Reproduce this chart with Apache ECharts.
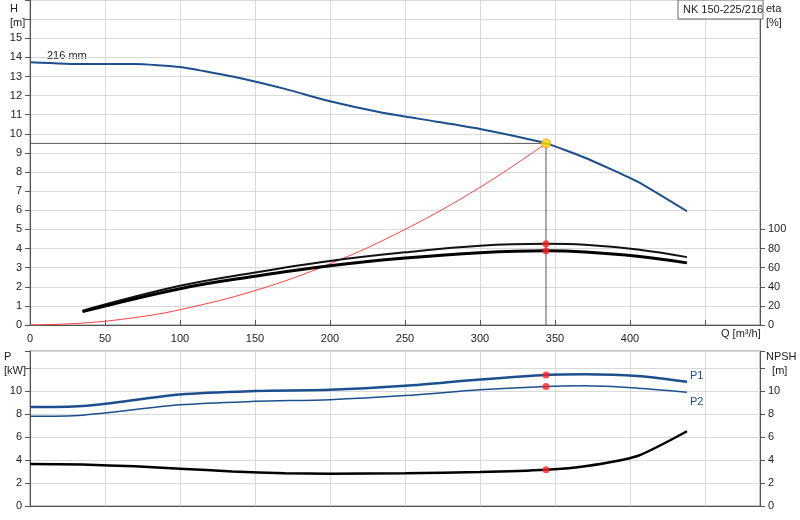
<!DOCTYPE html>
<html><head><meta charset="utf-8">
<script src="https://cdn.jsdelivr.net/npm/echarts@6/dist/echarts.min.js"></script>
<style>html,body{margin:0;padding:0;background:#fff}#c{width:800px;height:520px}</style>
</head><body><div id="c"></div>
<script>
const hQ   = [0,35,70,100,135,170,200,235,270,300,344,370,405,438];
const hVal = [13.75,13.65,13.65,13.5,13.0,12.35,11.7,11.1,10.65,10.25,9.5,8.75,7.5,5.95];
const etaQ = [35,100,150,200,250,300,344,370,405,438];
const eta1 = [15,41,55,67,76,83,85,84,79,71];
const eta2 = [14,38,51,62,70,75.6,77.6,76.4,72,65];
const sysQ = [0,35,70,100,150,200,250,300,344];
const sysH = [0,0.1,0.39,0.8,1.8,3.2,5.0,7.2,9.5];
const pQ   = [0,35,100,150,200,250,300,344,370,405,438];
const p1   = [8.6,8.7,9.7,10.0,10.1,10.45,11.0,11.4,11.45,11.3,10.8];
const p2   = [7.8,7.9,8.8,9.1,9.25,9.6,10.1,10.4,10.45,10.25,9.9];
const npQ  = [0,35,70,100,135,170,200,250,300,344,370,405,438];
const npsh = [3.65,3.6,3.45,3.25,3.0,2.85,2.8,2.85,2.95,3.15,3.45,4.35,6.5];
const opQ = 344, opH = 9.5, opEta1 = 85, opEta2 = 77.6, opP1 = 11.4, opP2 = 10.4, opNpsh = 3.15;
const hTicks = [0,1,2,3,4,5,6,7,8,9,10,11,12,13,14,15];
const etaTicks = [0,20,40,60,80,100];

const zip = (a,b)=>a.map((x,i)=>[x,b[i]]);
const blue = '#1c4f8c';
const gridLine = {show:true,lineStyle:{color:'#d9d9d9'}};
const axLine = {show:true,lineStyle:{color:'#555'}};
const lbl = {color:'#222',fontSize:11,fontFamily:'Liberation Sans'};
const xBase = {type:'value',min:0,max:486.67,interval:50,splitLine:gridLine,axisLine:axLine,axisTick:{show:true,length:-5,lineStyle:{color:'#555'}}};
const chart = echarts.init(document.getElementById('c'));
chart.setOption({
  animation:false,
  grid:[
    {left:30,right:40,top:0,height:325,show:true,borderColor:'#888',borderWidth:1},
    {left:30,right:40,top:351,height:155,show:true,borderColor:'#888',borderWidth:1}
  ],
  xAxis:[
    Object.assign({},xBase,{gridIndex:0,axisLabel:Object.assign({},lbl,{formatter:v=>v>=450?'':v})}),
    Object.assign({},xBase,{gridIndex:1,axisTick:{show:false},axisLabel:{show:false}})
  ],
  yAxis:[
    {gridIndex:0,type:'value',min:0,max:17,interval:1,splitLine:gridLine,axisLine:axLine,axisTick:{show:true,lineStyle:{color:'#555'}},
     axisLabel:Object.assign({},lbl,{formatter:v=>hTicks.includes(v)?v:''})},
    {gridIndex:0,type:'value',position:'right',min:0,max:340,interval:20,splitLine:{show:false},axisLine:axLine,
     axisTick:{show:true,customValues:etaTicks,lineStyle:{color:'#555'}},
     axisLabel:Object.assign({},lbl,{customValues:etaTicks})},
    {gridIndex:1,type:'value',min:0,max:13.48,interval:2,splitLine:gridLine,axisLine:axLine,axisTick:{show:true,lineStyle:{color:'#555'}},
     axisLabel:Object.assign({},lbl,{formatter:v=>v<=10?v:''})},
    {gridIndex:1,type:'value',position:'right',min:0,max:13.48,interval:2,splitLine:{show:false},axisLine:axLine,axisTick:{show:true,lineStyle:{color:'#555'}},
     axisLabel:Object.assign({},lbl,{formatter:v=>v<=10?v:''})}
  ],
  series:[
    {type:'line',xAxisIndex:0,yAxisIndex:0,data:[[0,opH],[opQ,opH],[opQ,0]],symbol:'none',lineStyle:{color:'#555',width:1},z:1},
    {type:'line',xAxisIndex:0,yAxisIndex:0,data:zip(hQ,hVal),smooth:0.15,symbol:'none',lineStyle:{color:blue,width:2}},
    {type:'line',xAxisIndex:0,yAxisIndex:0,data:zip(sysQ,sysH),smooth:0.4,symbol:'none',lineStyle:{color:'#ff4040',width:1}},
    {type:'line',xAxisIndex:0,yAxisIndex:1,data:zip(etaQ,eta1),smooth:0.4,symbol:'none',lineStyle:{color:'#111',width:2}},
    {type:'line',xAxisIndex:0,yAxisIndex:1,data:zip(etaQ,eta2),smooth:0.4,symbol:'none',lineStyle:{color:'#000',width:3}},
    {type:'line',xAxisIndex:1,yAxisIndex:2,data:zip(pQ,p1),smooth:0.3,symbol:'none',lineStyle:{color:blue,width:2.5}},
    {type:'line',xAxisIndex:1,yAxisIndex:2,data:zip(pQ,p2),smooth:0.3,symbol:'none',lineStyle:{color:blue,width:1.5}},
    {type:'line',xAxisIndex:1,yAxisIndex:3,data:zip(npQ,npsh),smooth:0.2,symbol:'none',lineStyle:{color:'#000',width:2.5}},
    {type:'scatter',xAxisIndex:0,yAxisIndex:0,data:[[opQ,opH]],symbolSize:9,itemStyle:{color:'#ffdd00',borderColor:'#ff8800',borderWidth:1},z:5},
    {type:'scatter',xAxisIndex:0,yAxisIndex:1,data:[[opQ,opEta1],[opQ,opEta2]],symbolSize:7,itemStyle:{color:'#ff2020'},z:5},
    {type:'scatter',xAxisIndex:1,yAxisIndex:2,data:[[opQ,opP1],[opQ,opP2]],symbolSize:7,itemStyle:{color:'#ff2020'},z:5},
    {type:'scatter',xAxisIndex:1,yAxisIndex:3,data:[[opQ,opNpsh]],symbolSize:7,itemStyle:{color:'#ff2020'},z:5}
  ],
  graphic:[
    {type:'text',left:10,top:2,style:{text:'H\n[m]',fill:'#222',font:'11px Liberation Sans',lineHeight:14,align:'center'}},
    {type:'text',left:766,top:2,style:{text:'eta\n[%]',fill:'#222',font:'11px Liberation Sans',lineHeight:14}},
    {type:'text',left:47,top:50,style:{text:'216 mm',fill:'#222',font:'11px Liberation Sans'}},
    {type:'text',left:721,top:328,style:{text:'Q [m³/h]',fill:'#222',font:'11px Liberation Sans'}},
    {type:'rect',shape:{x:678,y:0,width:85,height:19},style:{fill:'#fff',stroke:'#666',lineWidth:1},z:10},
    {type:'text',left:683,top:4,z:11,style:{text:'NK 150-225/216',fill:'#222',font:'11px Liberation Sans'}},
    {type:'text',left:4,top:350,style:{text:'P\n[kW]',fill:'#222',font:'11px Liberation Sans',lineHeight:14}},
    {type:'text',left:766,top:350,style:{text:'NPSH\n  [m]',fill:'#222',font:'11px Liberation Sans',lineHeight:14}},
    {type:'text',left:690,top:370,style:{text:'P1',fill:blue,font:'11px Liberation Sans'}},
    {type:'text',left:690,top:396,style:{text:'P2',fill:blue,font:'11px Liberation Sans'}}
  ]
});
</script></body></html>
